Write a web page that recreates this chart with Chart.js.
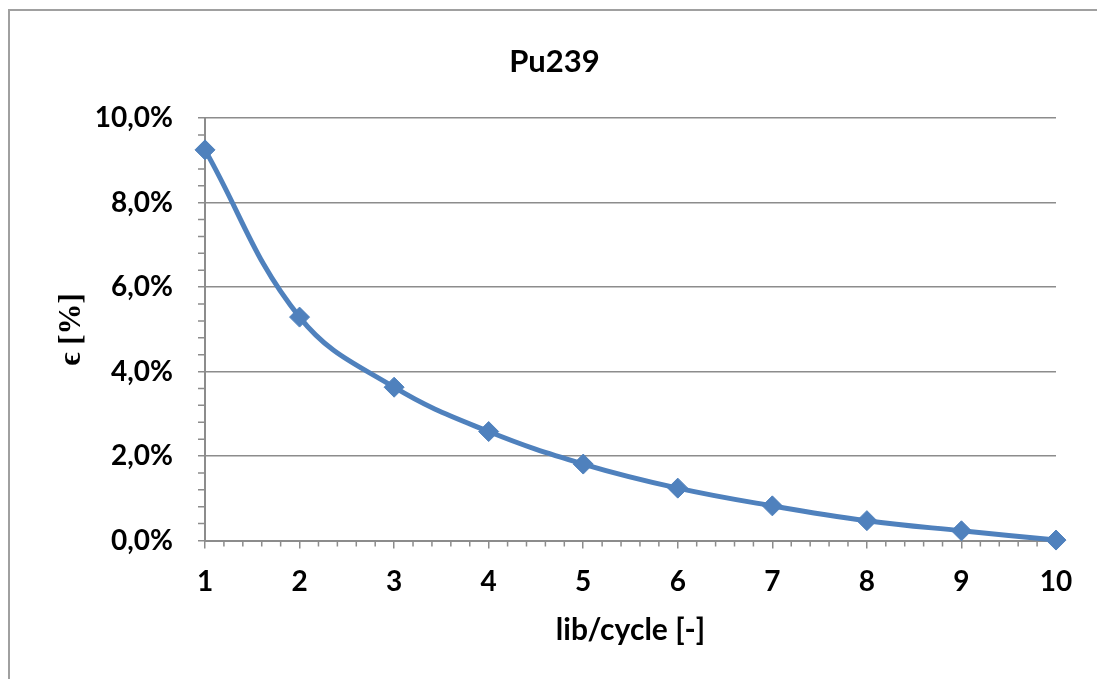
<!DOCTYPE html>
<html>
<head>
<meta charset="utf-8">
<title>Pu239</title>
<script src="https://cdn.jsdelivr.net/npm/chart.js@4/dist/chart.umd.min.js"></script>
<style>
  html, body { margin: 0; padding: 0; background: #fff; }
  #chart { display: block; }
</style>
</head>
<body>
<canvas id="chart" width="1097" height="679"></canvas>
<script>
// data
const cycles = [1, 2, 3, 4, 5, 6, 7, 8, 9, 10];
const epsilonPct = [9.25, 5.29, 3.63, 2.58, 1.81, 1.24, 0.82, 0.47, 0.23, 0.01];

const yTicks = [0, 2, 4, 6, 8, 10];   // percent
const xTicks = [1, 2, 3, 4, 5, 6, 7, 8, 9, 10];

const blue = '#4F81BD';
const gridGray = '#8C8C8C';
const frameGray = '#A0A0A0';
const sansFont = 'Lato, "Open Sans", sans-serif';

// minor tick marks, 5 per major step like excel
const minorTicks = {
  id: 'minorTicks',
  beforeDatasetsDraw(chart) {
    const {ctx, scales: {x, y}} = chart;
    ctx.save();
    ctx.strokeStyle = gridGray;
    ctx.lineWidth = 1.5;
    ctx.beginPath();
    for (let i = 0; i < yTicks.length - 1; i++) {
      let step = (yTicks[i + 1] - yTicks[i]) / 5;
      for (let k = 1; k < 5; k++) {
        let py = y.getPixelForValue(yTicks[i] + step * k);
        ctx.moveTo(x.left - 7, py);
        ctx.lineTo(x.left, py);
      }
    }
    for (let i = 0; i < xTicks.length - 1; i++) {
      let step = (xTicks[i + 1] - xTicks[i]) / 5;
      for (let k = 1; k < 5; k++) {
        let px = x.getPixelForValue(xTicks[i] + step * k);
        ctx.moveTo(px, y.bottom);
        ctx.lineTo(px, y.bottom + 6);
      }
    }
    ctx.stroke();
    ctx.restore();
  }
};

// the grey outer frame (only top and left are visible in the crop)
const frame = {
  id: 'frame',
  beforeDraw(chart) {
    const ctx = chart.ctx;
    ctx.save();
    ctx.fillStyle = '#fff';
    ctx.fillRect(0, 0, chart.width, chart.height);
    ctx.strokeStyle = frameGray;
    ctx.lineWidth = 2;
    ctx.beginPath();
    ctx.moveTo(9, chart.height + 5);
    ctx.lineTo(9, 10);
    ctx.lineTo(chart.width + 5, 10);
    ctx.stroke();
    ctx.restore();
  }
};

const ctx = document.getElementById('chart').getContext('2d');

new Chart(ctx, {
  type: 'line',
  data: {
    datasets: [{
      label: 'Pu239',
      data: cycles.map((c, i) => ({x: c, y: epsilonPct[i]})),
      borderColor: blue,
      borderWidth: 5,
      tension: 0.4,
      pointStyle: 'rectRot',
      pointRadius: 10,
      pointBackgroundColor: blue,
      pointBorderColor: blue,
      pointBorderWidth: 1,
      clip: false
    }]
  },
  options: {
    responsive: false,
    animation: false,
    // left padding shifts the title centre over to where excel put it
    layout: { padding: { left: 53, right: 41, top: 0, bottom: 0 } },
    plugins: {
      legend: { display: false },
      tooltip: { enabled: false },
      title: {
        display: true,
        text: 'Pu239',
        color: '#000',
        font: { family: sansFont, size: 31, weight: 'bold' },
        padding: { top: 43, bottom: 38 }
      }
    },
    scales: {
      x: {
        type: 'linear',
        min: 1,
        max: 10,
        afterFit(scale) { scale.height = 138.5; },
        afterBuildTicks(scale) { scale.ticks = xTicks.map(v => ({value: v})); },
        ticks: {
          color: '#000',
          padding: 17,
          maxRotation: 0,
          font: { family: sansFont, size: 28, weight: 'bold' }
        },
        grid: { drawOnChartArea: false, color: gridGray, lineWidth: 1.5, tickLength: 8 },
        border: { color: gridGray, width: 2 },
        title: {
          display: true,
          text: 'lib/cycle [-]',
          color: '#000',
          font: { family: sansFont, size: 30, weight: 'bold' },
          padding: { top: 0, bottom: 31 }
        }
      },
      y: {
        min: 0,
        max: 10,
        afterFit(scale) { scale.width = 152; },
        afterBuildTicks(scale) { scale.ticks = yTicks.map(v => ({value: v})); },
        ticks: {
          color: '#000',
          padding: 25,
          font: { family: sansFont, size: 28, weight: 'bold' },
          callback: v => v.toFixed(1).replace('.', ',') + '%'
        },
        grid: { color: gridGray, lineWidth: 1.5, tickLength: 7 },
        border: { color: gridGray, width: 2 },
        title: {
          display: true,
          text: 'ϵ [%]',
          color: '#000',
          font: { family: '"Liberation Serif", "DejaVu Serif", serif', size: 31, weight: 'bold' },
          padding: { top: 0, bottom: 0 }
        }
      }
    }
  },
  plugins: [frame, minorTicks]
});
</script>
</body>
</html>
